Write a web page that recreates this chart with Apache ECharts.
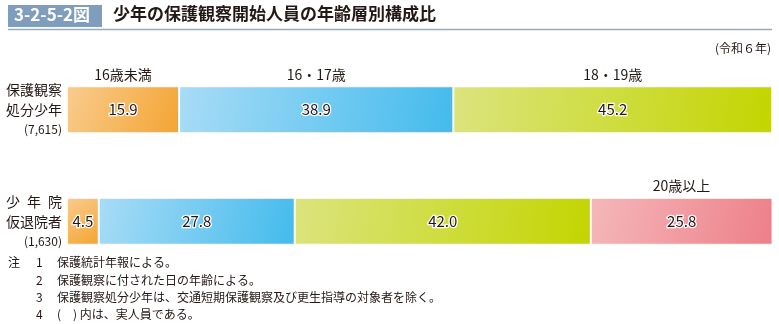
<!DOCTYPE html>
<html><head><meta charset="utf-8">
<script src="https://cdn.jsdelivr.net/npm/echarts@6/dist/echarts.min.js"></script>
<style>html,body{margin:0;padding:0;background:#fff}#c{width:779px;height:324px}</style>
</head><body><div id="c"></div>
<script>
var FONT = '"Noto Sans CJK JP","Noto Sans",sans-serif';
var rowNames = ['保護観察\n処分少年', '少\u2002年\u2002院\n仮退院者'];
var rowCounts = ['(7,615)', '(1,630)'];
var groups = ['16歳未満', '16・17歳', '18・19歳', '20歳以上'];
var v16under = [15.9, 4.5];
var v1617 = [38.9, 27.8];
var v1819 = [45.2, 42.0];
var v20over = [null, 25.8];
var groupLabelRow = [0, 0, 0, 1];
var notes = [
  ['注', '1', '保護統計年報による。'],
  ['', '2', '保護観察に付された日の年齢による。'],
  ['', '3', '保護観察処分少年は，交通短期保護観察及び更生指導の対象者を除く。'],
  ['', '4', '(\u3000) 内は，実人員である。']
];
notes[2][2] = '保護観察処分少年は、交通短期保護観察及び更生指導の対象者を除く。';
notes[3][2] = '(\u3000) 内は、実人員である。';
var titleNo = '3-2-5-2図';
var titleText = '少年の保護観察開始人員の年齢層別構成比';
var unitText = '(令和６年)';

var values = [v16under, v1617, v1819, v20over];
var colors = [
  ['#f9cc8f', '#f4a432'],
  ['#a8dcf6', '#43bbec'],
  ['#dbe47e', '#c3d500'],
  ['#f4b8bb', '#ee7f88']
];
function grad(c) {
  return new echarts.graphic.LinearGradient(0, 0, 1, 1, [
    {offset: 0, color: c[0]}, {offset: 1, color: c[1]}
  ]);
}
var series = [];
values.forEach(function (arr, i) {
  series.push({
    type: 'bar', name: groups[i], stack: 'a', barWidth: 47, barGap: '-100%',
    data: arr,
    itemStyle: {color: grad(colors[i]), borderColor: 'rgba(255,255,250,0.9)', borderWidth: 1},
    label: {
      show: true, position: 'inside', fontFamily: FONT, fontSize: 15,
      color: '#231815', textBorderColor: '#fff', textBorderWidth: 2.5,
      formatter: function (p) { return p.value == null ? '' : p.value.toFixed(1); }
    },
    silent: true
  });
});
values.forEach(function (arr, i) {
  series.push({
    type: 'bar', name: groups[i] + '_lbl', stack: 'b', barWidth: 47, barGap: '-100%',
    data: arr.map(function (v, r) {
      return {value: v, label: {show: r === groupLabelRow[i]}};
    }),
    itemStyle: {color: 'rgba(0,0,0,0)'},
    label: {
      position: 'top', distance: 5, fontFamily: FONT, fontSize: 14, color: '#231815',
      formatter: groups[i]
    },
    silent: true, z: 5
  });
});

var noteGraphics = [];
var noteY = [263, 281, 298, 315];
notes.forEach(function (n, i) {
  var cols = [8, 36, 57];
  n.forEach(function (t, j) {
    if (!t) return;
    noteGraphics.push({type: 'text', left: cols[j], top: noteY[i] - 7,
      style: {text: t, font: '12px ' + FONT, fill: '#231815'}});
  });
});

var chart = echarts.init(document.getElementById('c'), null, {renderer: 'canvas'});
chart.setOption({
  animation: false,
  grid: {left: 67, right: 7, top: 54, height: 223, containLabel: false},
  xAxis: {type: 'value', min: 0, max: 100, show: false},
  yAxis: {
    type: 'category', inverse: true, data: rowNames.map(function (n, i) { return n + '\n{s|' + rowCounts[i] + '}'; }),
    axisLine: {show: false}, axisTick: {show: false}, splitLine: {show: false},
    axisLabel: {
      margin: 5, fontFamily: FONT, fontSize: 14, lineHeight: 20, color: '#231815', align: 'right',
      rich: {s: {fontFamily: FONT, fontSize: 12, lineHeight: 20, color: '#231815'}}
    }
  },
  series: series,
  graphic: [
    {type: 'rect', shape: {x: 8, y: 5, width: 94, height: 22}, style: {fill: '#7f9ebd'}},
    {type: 'text', left: 14, top: 6, style: {text: titleNo, font: 'bold 17px ' + FONT, fill: '#fff'}},
    {type: 'text', left: 113, top: 5, style: {text: titleText, font: 'bold 17px ' + FONT, fill: '#231815'}},
    {type: 'line', shape: {x1: 8, y1: 29.5, x2: 772, y2: 29.5}, style: {stroke: '#8eaccc', lineWidth: 1.5}},
    {type: 'text', right: 8, top: 42, style: {text: unitText, font: '12px ' + FONT, fill: '#231815'}}
  ].concat(noteGraphics)
});
</script></body></html>
